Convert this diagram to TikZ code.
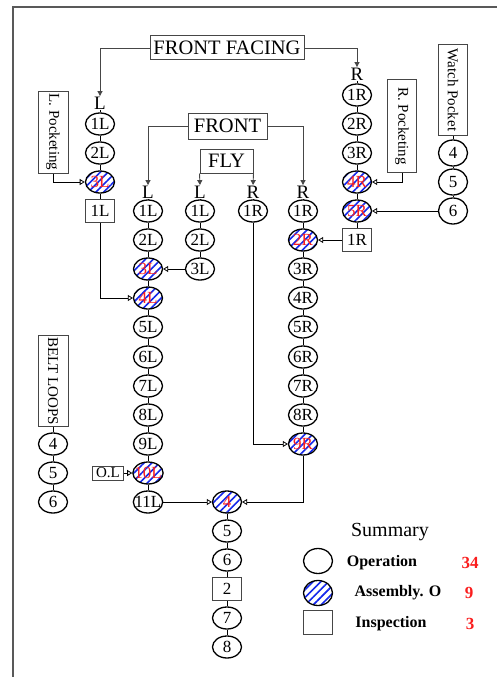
\documentclass[tikz,border=0pt]{standalone}
\usepackage{fontspec}
\setmainfont{Liberation Serif}
\usetikzlibrary{shapes.geometric,arrows.meta,patterns.meta}

\newcommand\fsz[1]{\fontsize{#1}{#1}\selectfont}
\definecolor{hatchblue}{RGB}{20,40,235}
\definecolor{numred}{RGB}{250,30,30}
\definecolor{boxgray}{RGB}{70,70,70}

\tikzset{
  op/.style={draw,ellipse,line width=1.3pt,minimum width=29pt,minimum height=22pt,inner sep=-3pt,font=\fsz{17}},
  assy/.style={op,pattern={Lines[angle=45,distance=5.5pt,line width=1.6pt]},pattern color=hatchblue,text=numred},
  insp/.style={draw=boxgray,rectangle,line width=1pt,minimum width=29pt,minimum height=23pt,inner sep=0pt,font=\fsz{17}},
  title/.style={draw=boxgray,rectangle,line width=1pt,inner sep=0pt,font=\fsz{20.5}},
  sidebox/.style={draw=boxgray,rectangle,line width=1pt,rotate=-90,inner sep=0pt,font=\fsz{15}},
  side/.style={inner sep=0.5pt,font=\fsz{19}},
  feed/.style={draw=boxgray,line width=0.9pt,-{Triangle[width=5pt,length=5pt]}},
  flow/.style={line width=0.8pt,-{Triangle[open,width=6pt,length=5pt]}},
  link/.style={line width=0.8pt}
}

\begin{document}
\begin{tikzpicture}[x=1pt,y=-1pt]
        \useasboundingbox (0,0) rectangle (497,677);
        \draw[line width=1.5pt,gray!70!black] (13,677) -- (13,7) -- (497,7);

        % title boxes
        \node[title,minimum width=154pt,minimum height=24pt] (ffac) at (227,48) {FRONT FACING};
        \node[title,minimum width=79pt,minimum height=26pt] (front) at (227.5,126) {FRONT};
        \node[title,minimum width=53pt,minimum height=24pt] (fly) at (226.5,161) {FLY};

        % side boxes
        \node[sidebox,minimum width=82pt,minimum height=30pt] (lpock) at (53,132) {L. Pocketing};
        \node[sidebox,minimum width=93pt,minimum height=29pt] (rpock) at (402,126) {R. Pocketing};
        \node[sidebox,minimum width=91pt,minimum height=29pt] (watch) at (453,90) {Watch Pocket};
        \node[sidebox,minimum width=91pt,minimum height=30pt] (belt) at (53,381) {BELT LOOPS};

        % side letters
        \node[side] (lA) at (100,103) {L};
        \node[side] (rA) at (357,74) {R};
        \node[side] (lB) at (148,192) {L};
        \node[side] (lC) at (200,192) {L};
        \node[side] (rC) at (253,192) {R};
        \node[side] (rD) at (303,192) {R};

        % left front facing
        \node[op] (a1) at (100,124) {1L};
        \node[op] (a2) at (100,153) {2L};
        \node[assy] (a3) at (100,182) {3L};
        \node[insp] (ia) at (100,211) {1L};

        % left front
        \node[op] (b1) at (148,211) {1L};
        \node[op] (b2) at (148,240) {2L};
        \node[assy] (b3) at (148,269) {3L};
        \node[assy] (b4) at (148,298) {4L};
        \node[op] (b5) at (148,327) {5L};
        \node[op] (b6) at (148,357) {6L};
        \node[op] (b7) at (148,386) {7L};
        \node[op] (b8) at (148,415) {8L};
        \node[op] (b9) at (148,444) {9L};
        \node[assy] (b10) at (148,473) {10L};
        \node[op] (b11) at (148,502) {11L};
        \node[draw=boxgray,line width=1pt,minimum width=31pt,minimum height=14pt,inner sep=0pt,font=\fsz{15}] (ol) at (108,473) {O.L};

        % fly
        \node[op] (c1) at (200,211) {1L};
        \node[op] (c2) at (200,240) {2L};
        \node[op] (c3) at (200,269) {3L};
        \node[op] (d1) at (253,211) {1R};

        % right front
        \node[op] (e1) at (303,211) {1R};
        \node[assy] (e2) at (303,240) {2R};
        \node[op] (e3) at (303,269) {3R};
        \node[op] (e4) at (303,298) {4R};
        \node[op] (e5) at (303,327) {5R};
        \node[op] (e6) at (303,357) {6R};
        \node[op] (e7) at (303,386) {7R};
        \node[op] (e8) at (303,415) {8R};
        \node[assy] (e9) at (303,444) {9R};

        % right front facing
        \node[op] (f1) at (357,95) {1R};
        \node[op] (f2) at (357,124) {2R};
        \node[op] (f3) at (357,153) {3R};
        \node[assy] (f4) at (357,182) {4R};
        \node[assy] (f5) at (357,211) {5R};
        \node[insp] (if) at (357,240) {1R};

        % watch pocket and belt loops
        \node[op,minimum height=26pt] (g4) at (453,153) {4};
        \node[op,minimum height=26pt] (g5) at (453,182) {5};
        \node[op,minimum height=26pt] (g6) at (453,211) {6};
        \node[op] (h4) at (53,444) {4};
        \node[op] (h5) at (53,473) {5};
        \node[op] (h6) at (53,502) {6};

        % final assembly
        \node[assy] (m4) at (227,502) {4};
        \node[op] (m5) at (227,531) {5};
        \node[op] (m6) at (227,560) {6};
        \node[insp] (m2) at (227,589) {2};
        \node[op] (m7) at (227,618) {7};
        \node[op] (m8) at (227,647) {8};

        % feeds from the titles
        \draw[feed] (ffac.west) -| (lA.north);
        \draw[feed] (ffac.east) -| (rA.north);
        \draw[feed] (front.west) -| (lB.north);
        \draw[feed] (front.east) -| (rD.north);
        \draw[feed] (fly.south west) -- (lC.north);
        \draw[feed] (fly.south east) -- (rC.north);

        % straight runs
        \draw[link] (lA) -- (a1) -- (a2) -- (a3) -- (ia);
        \draw[link] (lB) -- (b1) -- (b2) -- (b3) -- (b4) -- (b5) -- (b6) -- (b7) -- (b8) -- (b9) -- (b10) -- (b11);
        \draw[link] (lC) -- (c1) -- (c2) -- (c3);
        \draw[link] (rC) -- (d1);
        \draw[link] (rD) -- (e1) -- (e2) -- (e3) -- (e4) -- (e5) -- (e6) -- (e7) -- (e8) -- (e9);
        \draw[link] (rA) -- (f1) -- (f2) -- (f3) -- (f4) -- (f5) -- (if);
        \draw[link] (watch.east) -- (g4) -- (g5) -- (g6);
        \draw[link] (belt.east) -- (h4) -- (h5) -- (h6);
        \draw[link] (m4) -- (m5) -- (m6) -- (m2) -- (m7) -- (m8);

        % joins
        \draw[flow] (lpock.east) |- (a3);
        \draw[flow] (ia.south) |- (b4);
        \draw[flow] (c3) -- (b3);
        \draw[flow] (ol) -- (b10);
        \draw[flow] (d1.south) |- (e9);
        \draw[flow] (if) -- (e2);
        \draw[flow] (rpock.east) |- (f4);
        \draw[flow] (g6) -- (f5);
        \draw[flow] (b11) -- (m4);
        \draw[flow] (e9.south) |- (m4);

        % summary
        \node[font=\fsz{20}] (sum) at (390,532) {Summary};
        \node[op,minimum height=25pt] (kop) at (318,561) {};
        \node[assy,minimum height=25pt] (kas) at (318,593) {};
        \node[insp,minimum height=24pt] (kin) at (318,622) {};
        \node[font=\fsz{16}\bfseries] (top) at (382,563) {Operation};
        \node[font=\fsz{16}\bfseries] (tas) at (398,593) {Assembly. O};
        \node[font=\fsz{16}\bfseries] (tin) at (391,624) {Inspection};
        \node[font=\fsz{17}\bfseries,text=numred] (nop) at (470,563) {34};
        \node[font=\fsz{17}\bfseries,text=numred] (nas) at (469,593) {9};
        \node[font=\fsz{17}\bfseries,text=numred] (nin) at (470,624) {3};
    \end{tikzpicture}
\end{document}
